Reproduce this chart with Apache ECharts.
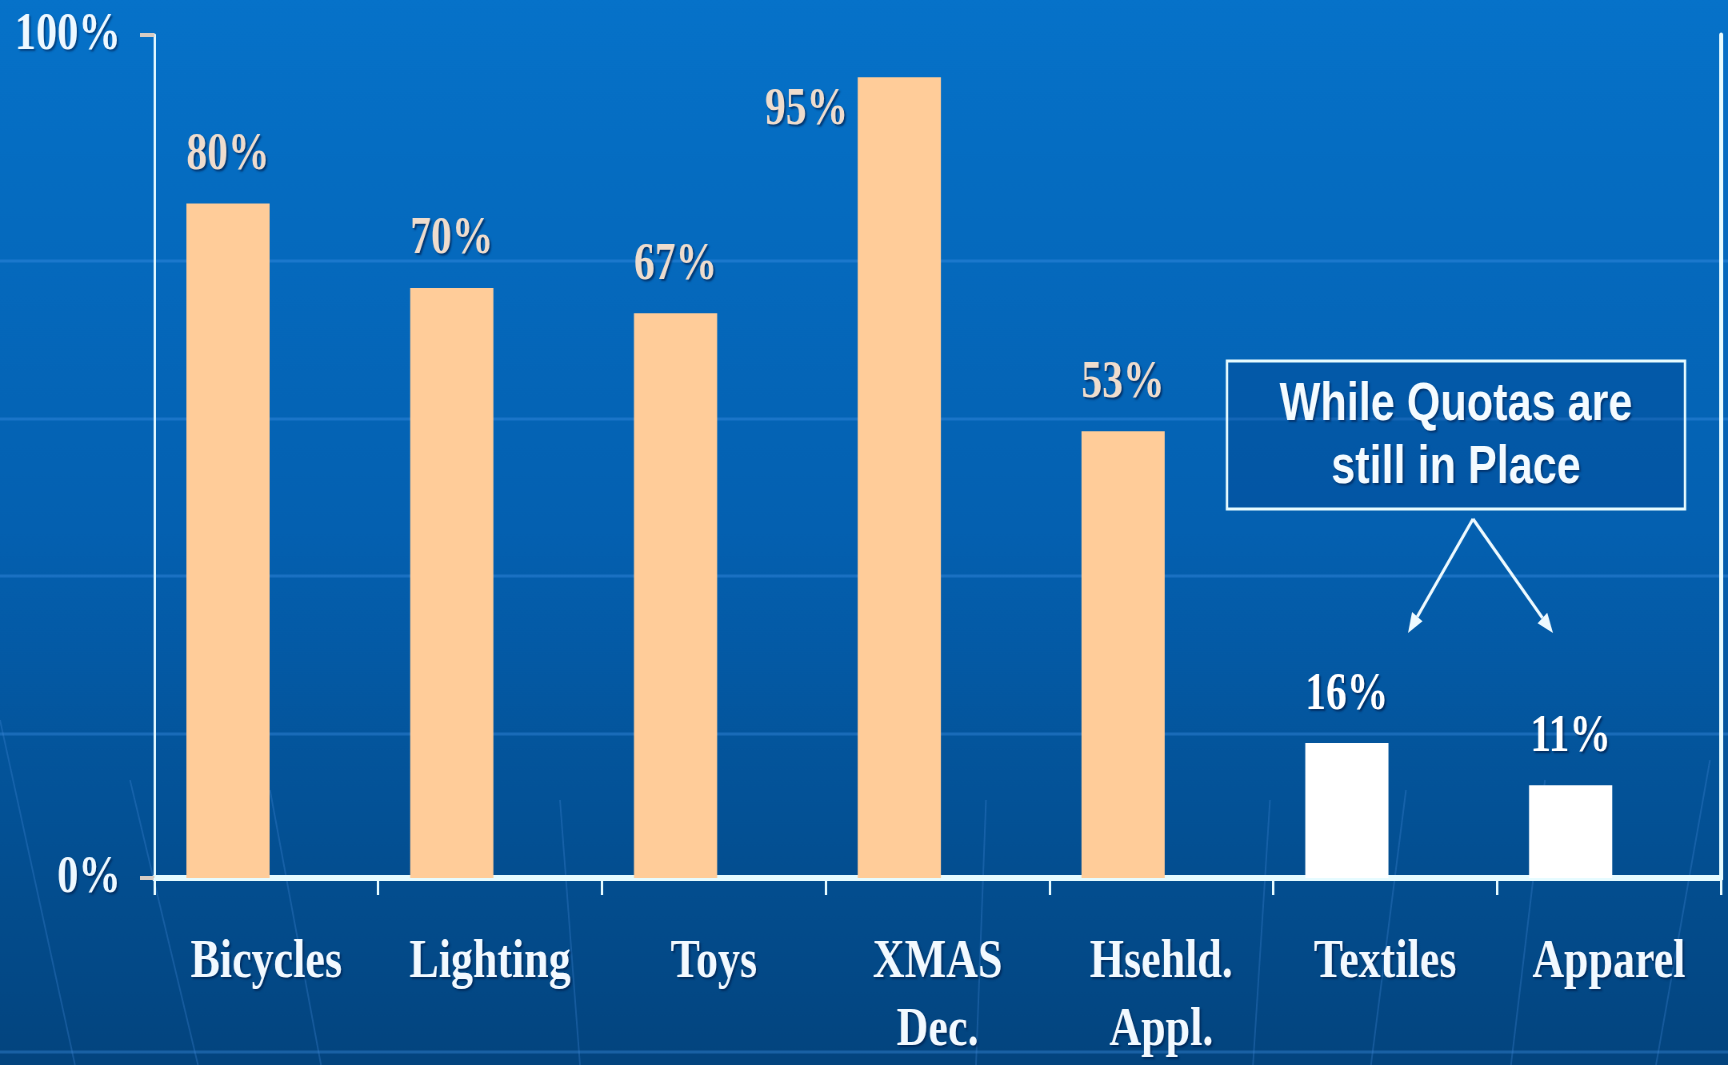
<!DOCTYPE html>
<html>
<head>
<meta charset="utf-8">
<script src="https://cdn.jsdelivr.net/npm/echarts@6/dist/echarts.min.js"></script>
<style>
html,body{margin:0;padding:0;width:1728px;height:1065px;overflow:hidden;background:#0460b0;}
#c{width:2160px;height:1065px;transform:scaleX(0.8);transform-origin:0 0;}
</style>
</head>
<body>
<div id="c"></div>
<script>
// ---- data ----
const categories = ['Bicycles', 'Lighting', 'Toys', 'XMAS\nDec.', 'Hsehld.\nAppl.', 'Textiles', 'Apparel'];
const shares = [80, 70, 67, 95, 53, 16, 11];
const quotaFlags = [false, false, false, false, false, true, true];
const yTicks = [0, 100];
const noteLines = ['While Quotas are', 'still in Place'];

// the slide is squeezed horizontally; chart is drawn in a wider space and scaled by SX
const SX = 0.8;
const X = v => v / SX;

const chart = echarts.init(document.getElementById('c'), null, {width: 2160, height: 1065});

const serif = 'Liberation Serif, Times New Roman, serif';
const sans = 'Liberation Sans, Arial, sans-serif';

const barData = shares.map((v, i) => {
  const item = {
    value: v,
    itemStyle: {color: quotaFlags[i] ? '#ffffff' : '#ffcc99'},
    label: {color: quotaFlags[i] ? '#ffffff' : '#eedccd'}
  };
  if (v === 95) {
    item.label.position = [-12, 33];
    item.label.align = 'right';
    item.label.verticalAlign = 'middle';
  }
  return item;
});

// decorative background
const deco = [];
[261, 419, 576, 734, 1052].forEach(y => {
  deco.push({type: 'line', silent: true, z: -10,
    shape: {x1: 0, y1: y, x2: 2160, y2: y},
    style: {stroke: 'rgba(70,150,235,0.35)', lineWidth: 3}});
});
[[0, 720, 75, 1065], [130, 780, 198, 1065], [270, 790, 321, 1065], [560, 800, 580, 1065],
 [986, 800, 976, 1065], [1270, 800, 1253, 1065], [1406, 790, 1371, 1065], [1545, 780, 1511, 1065],
 [1710, 760, 1656, 1065]].forEach(s => {
  deco.push({type: 'line', silent: true, z: -10,
    shape: {x1: X(s[0]), y1: s[1], x2: X(s[2]), y2: s[3]},
    style: {stroke: 'rgba(70,140,220,0.3)', lineWidth: 2}});
});

// annotation box + arrows
const apex = [X(1473), 519];
const tips = [[X(1408), 633], [X(1553), 633]];
const arrowEls = [];
tips.forEach(t => {
  const dx = t[0] - apex[0], dy = t[1] - apex[1];
  const L = Math.sqrt(dx * dx + dy * dy), ux = dx / L, uy = dy / L;
  const hl = 20, hw = 8;
  const bx = t[0] - ux * hl, by = t[1] - uy * hl;
  arrowEls.push({type: 'line', z: 50, shape: {x1: apex[0], y1: apex[1], x2: bx, y2: by},
    style: {stroke: '#eefaff', lineWidth: 3.5}});
  arrowEls.push({type: 'polygon', z: 50,
    shape: {points: [[t[0], t[1]], [bx - uy * hw, by + ux * hw], [bx + uy * hw, by - ux * hw]]},
    style: {fill: '#eefaff'}});
});

const option = {
  backgroundColor: {type: 'linear', x: 0, y: 0, x2: 0, y2: 1,
    colorStops: [{offset: 0, color: '#0672c9'}, {offset: 0.5, color: '#0460b0'}, {offset: 1, color: '#03447e'}]},
  animation: false,
  grid: {left: 193, right: 9, top: 35, bottom: 185, containLabel: false},
  xAxis: [{
    type: 'category', data: categories, position: 'bottom',
    axisLine: {show: true, lineStyle: {color: '#e6fbff', width: 6}},
    axisTick: {show: true, length: 17, lineStyle: {color: '#e6fbff', width: 3}},
    axisLabel: {fontFamily: serif, fontWeight: 'bold', fontSize: 55, color: '#f2f9ff',
      margin: 51, lineHeight: 68, interval: 0,
      textShadowColor: 'rgba(0,20,60,0.5)', textShadowOffsetX: 2, textShadowOffsetY: 2, textShadowBlur: 2},
    splitLine: {show: false}
  }, {
    type: 'category', data: categories, position: 'top',
    axisLine: {show: true, lineStyle: {color: '#e6fbff', width: 5}},
    axisTick: {show: false}, axisLabel: {show: false}, splitLine: {show: false}
  }],
  yAxis: [{
    type: 'value', min: 0, max: 100, interval: 100,
    axisLine: {show: true, lineStyle: {color: '#dff6ff', width: 3}},
    axisTick: {show: true, length: 18, lineStyle: {color: '#d6ccc4', width: 4}},
    axisLabel: {fontFamily: serif, fontWeight: 'bold', fontSize: 53, color: '#eef8ff', margin: 42,
      formatter: '{value}%',
      textShadowColor: 'rgba(0,20,60,0.5)', textShadowOffsetX: 2, textShadowOffsetY: 2, textShadowBlur: 2},
    splitLine: {show: false}
  }, {
    type: 'value', min: 0, max: 100, interval: 100, position: 'right',
    axisLine: {show: true, lineStyle: {color: '#e6fbff', width: 5}},
    axisTick: {show: false}, axisLabel: {show: false}, splitLine: {show: false}
  }],
  series: [{
    type: 'bar', name: 'share', data: barData, barWidth: 104, barGap: '-8%', z: 2,
    label: {show: true, position: 'top', distance: 22, formatter: '{c}%',
      fontFamily: serif, fontWeight: 'bold', fontSize: 52,
      textShadowColor: 'rgba(0,20,60,0.6)', textShadowOffsetX: 2, textShadowOffsetY: 2, textShadowBlur: 2}
  }, {
    type: 'bar', name: 'spacer', data: categories.map(() => '-'), barWidth: 104, barGap: '-8%',
    silent: true, itemStyle: {color: 'transparent'}
  }],
  graphic: deco.concat([
    {type: 'rect', z: 40, shape: {x: X(1227), y: 361, width: X(1685) - X(1227), height: 148},
      style: {fill: 'rgba(0,50,120,0.22)', stroke: '#e6fbff', lineWidth: 3}},
    {type: 'text', z: 45, x: X(1456), y: 405,
      style: {text: noteLines[0], fontFamily: sans, fontWeight: 'bold', fontSize: 54, fill: '#f4fbff',
        align: 'center', verticalAlign: 'middle', textShadowColor: 'rgba(0,20,60,0.5)', textShadowOffsetX: 2, textShadowOffsetY: 2, textShadowBlur: 2}},
    {type: 'text', z: 45, x: X(1456), y: 468,
      style: {text: noteLines[1], fontFamily: sans, fontWeight: 'bold', fontSize: 54, fill: '#f4fbff',
        align: 'center', verticalAlign: 'middle', textShadowColor: 'rgba(0,20,60,0.5)', textShadowOffsetX: 2, textShadowOffsetY: 2, textShadowBlur: 2}}
  ]).concat(arrowEls)
};
chart.setOption(option);
</script>
</body>
</html>
